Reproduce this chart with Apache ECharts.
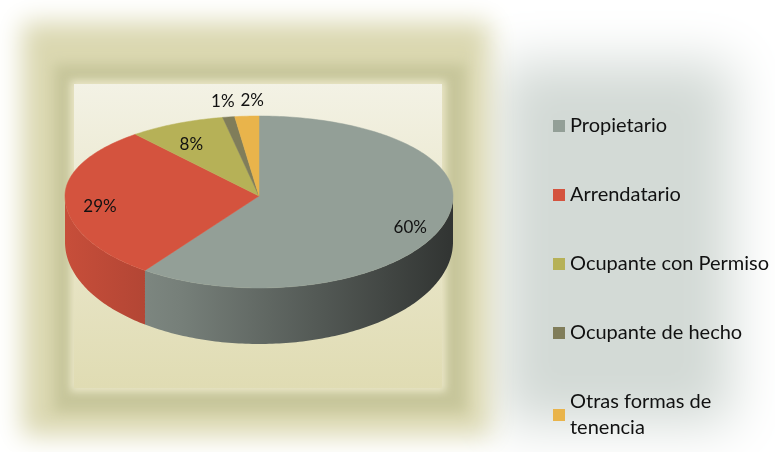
<!DOCTYPE html>
<html>
<head>
<meta charset="utf-8">
<script src="https://cdn.jsdelivr.net/npm/echarts@6.0.0/dist/echarts.min.js"></script>
<style>
  html, body { margin: 0; padding: 0; background: #fff; }
  #grafico { width: 775px; height: 452px; }
</style>
</head>
<body>
<div id="grafico"></div>
<script>
// datos
var categorias = ['Propietario', 'Arrendatario', 'Ocupante con Permiso', 'Ocupante de hecho', 'Otras formas de tenencia'];
var porcentajes = [60, 29, 8, 1, 2];
var colores = ['#939f97', '#d4533e', '#b6b157', '#807d5a', '#e9b44b'];

var total = porcentajes.reduce(function (a, b) { return a + b; }, 0);
// angulos acumulados, en grados desde las 12 y en sentido horario
var acum = 0;
var cortes = porcentajes.map(function (v) {
  var a0 = acum / total * 360;
  acum += v;
  return [a0, acum / total * 360, v];
});

// geometria del pastel 3D (la mitad delantera se ve algo mas grande, perspectiva)
var CX = 259, CY = 196, RX = 194, RY_ATRAS = 80, RY_FRENTE = 92;
var ALTO_LADO = 46, ALTO_FRENTE = 56;

function punto(ang, f, abajo) {
  var r = ang * Math.PI / 180;
  var c = Math.cos(r);
  var ry = c > 0 ? RY_ATRAS : RY_FRENTE;
  var y = CY - ry * f * c;
  if (abajo) y += ALTO_LADO + (ALTO_FRENTE - ALTO_LADO) * Math.max(0, -c);
  return [CX + RX * f * Math.sin(r), y];
}

function arco(a0, a1, abajo) {
  var pts = [];
  var n = Math.max(2, Math.ceil(a1 - a0));
  for (var i = 0; i <= n; i++) {
    pts.push(punto(a0 + (a1 - a0) * i / n, 1, abajo));
  }
  return pts;
}

function oscurecer(hex, k) {
  var n = parseInt(hex.slice(1), 16);
  var r = Math.round(((n >> 16) & 255) * (1 - k));
  var g = Math.round(((n >> 8) & 255) * (1 - k));
  var b = Math.round((n & 255) * (1 - k));
  return 'rgb(' + r + ',' + g + ',' + b + ')';
}

function renderPorcion(params, api) {
  var a0 = api.value(0), a1 = api.value(1), v = api.value(2);
  var color = colores[params.seriesIndex];
  var hijos = [];

  // pared lateral, solo la parte que mira al frente (90..270)
  var p0 = Math.max(a0, 90), p1 = Math.min(a1, 270);
  if (p1 > p0) {
    var arriba = arco(p0, p1, false);
    var abajo = arco(p0, p1, true).reverse();
    hijos.push({
      type: 'polygon',
      shape: { points: arriba.concat(abajo) },
      style: {
        fill: new echarts.graphic.LinearGradient(CX - RX, 0, CX + RX, 0, [
          { offset: 0, color: oscurecer(color, 0.06) },
          { offset: 0.3, color: oscurecer(color, 0.2) },
          { offset: 1, color: oscurecer(color, 0.67) }
        ], true)
      }
    });
  }

  // cara superior
  hijos.push({
    type: 'polygon',
    shape: { points: [[CX, CY]].concat(arco(a0, a1, false)) },
    style: { fill: color, stroke: color, lineWidth: 0.5 }
  });

  // etiqueta de porcentaje
  var medio = (a0 + a1) / 2;
  var txt = Math.round(v / total * 100) + '%';
  var pos, alinear = 'center';
  if (v / total < 0.05) {
    pos = punto(medio, 1.2, false);
    if (Math.sin(medio * Math.PI / 180) < -0.1) {
      alinear = 'right';
      pos[0] += 12;
    } else {
      alinear = 'left';
      pos[0] -= 4;
    }
  } else {
    pos = punto(medio, 0.82, false);
    pos[1] += 8;
  }
  hijos.push({
    type: 'text',
    style: {
      text: txt, x: pos[0], y: pos[1],
      fill: '#111', fontSize: 17, fontFamily: 'Lato',
      align: alinear, verticalAlign: 'middle'
    },
    z2: 10
  });

  return { type: 'group', children: hijos };
}

// rectangulo difuminado: solo se ve la sombra, desplazada a su sitio
function manchaDifusa(x, y, w, h, color, blur, z) {
  return {
    type: 'rect', silent: true, z: z,
    shape: { x: x - 2000, y: y, width: w, height: h },
    style: { fill: color, shadowBlur: blur, shadowColor: color, shadowOffsetX: 2000 }
  };
}

var chart = echarts.init(document.getElementById('grafico'), null, { renderer: 'canvas' });

var option = {
  animation: false,
  backgroundColor: '#ffffff',
  graphic: [
    // fondo gris detras de la leyenda
    manchaDifusa(500, 62, 232, 362, '#d3dad6', 50, -10),
    // marco beige exterior
    manchaDifusa(22, 22, 468, 414, '#dbd8b1', 24, -9),
    // banda mas oscura alrededor del area del grafico
    manchaDifusa(54, 64, 412, 348, '#c7c69b', 12, -8),
    // area interior clara
    manchaDifusa(70, 80, 376, 312, '#e6e3c2', 8, -7),
    {
      type: 'rect', silent: true, z: -6,
      shape: { x: 74, y: 84, width: 368, height: 304 },
      style: {
        fill: new echarts.graphic.LinearGradient(0, 0, 0, 1, [
          { offset: 0, color: '#f3f2e5' },
          { offset: 0.45, color: '#eae7cc' },
          { offset: 1, color: '#e0dcb3' }
        ]),
        shadowBlur: 6, shadowColor: '#e6e3c2'
      }
    }
  ],
  legend: {
    orient: 'vertical',
    left: 548,
    top: 96,
    height: 355,
    padding: [17, 5, 2, 5],
    icon: 'rect',
    itemWidth: 12,
    itemHeight: 12,
    itemGap: 43,
    selectedMode: false,
    data: categorias,
    textStyle: {
      fontFamily: 'Lato', fontSize: 20, color: '#111', lineHeight: 26,
      width: 205, overflow: 'break'
    }
  },
  series: categorias.map(function (nombre, i) {
    return {
      type: 'custom',
      name: nombre,
      coordinateSystem: 'none',
      silent: true,
      itemStyle: { color: colores[i] },
      renderItem: renderPorcion,
      data: [cortes[i]]
    };
  })
};

chart.setOption(option);
</script>
</body>
</html>
